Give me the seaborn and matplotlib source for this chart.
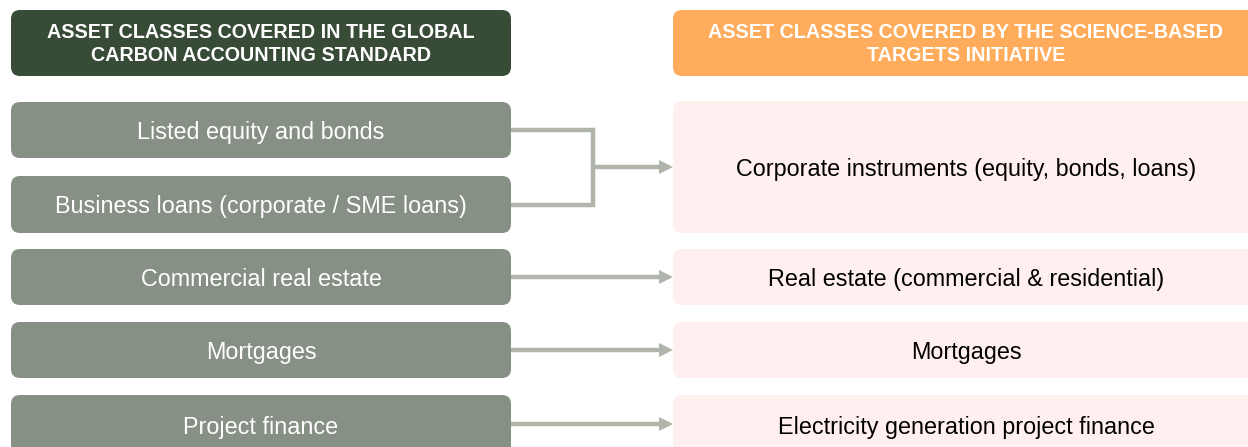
import matplotlib
matplotlib.use('Agg')
import matplotlib.pyplot as plt
from matplotlib.patches import FancyBboxPatch, Polygon
import seaborn as sns

# header texts
left_header = 'ASSET CLASSES COVERED IN THE GLOBAL\nCARBON ACCOUNTING STANDARD'
right_header = 'ASSET CLASSES COVERED BY THE SCIENCE-BASED\nTARGETS INITIATIVE'

# left column (PCAF asset classes) and which right box each one maps to
left_labels = ['Listed equity and bonds', 'Business loans (corporate / SME loans)',
               'Commercial real estate', 'Mortgages', 'Project finance']
left_target = [0, 0, 1, 2, 3]

# right column (SBTi asset classes)
right_labels = ['Corporate instruments (equity, bonds, loans)',
                'Real estate (commercial & residential)',
                'Mortgages', 'Electricity generation project finance']

# row geometry in pixels (top, bottom)
left_rows = [(102, 158), (176, 233), (249, 305), (322, 378), (395, 455)]
right_rows = [(101, 233), (249, 305), (322, 378), (395, 455)]

dark_green = '#374B37'
orange = '#FFAD5C'
grey_green = '#879084'
pink = '#FFF0EF'
arrow_col = '#B0B5AC'

sns.set_theme(style='white')
plt.rcParams['font.family'] = ['Liberation Sans', 'DejaVu Sans']

fig = plt.figure(figsize=(12.48, 4.47), dpi=100)
ax = fig.add_axes([0, 0, 1, 1])
ax.set_xlim(0, 1248)
ax.set_ylim(447, 0)
ax.axis('off')

LX0, LX1 = 11, 511
RX0, RX1 = 673, 1262


def box(x0, x1, y0, y1, color):
    r = 9
    p = FancyBboxPatch((x0 + r, y0 + r), (x1 - x0) - 2 * r, (y1 - y0) - 2 * r,
                       boxstyle=f'round,pad={r},rounding_size={r}',
                       fc=color, ec='none', zorder=2)
    ax.add_patch(p)


def arrow(x0, x1, y):
    ax.plot([x0, x1 - 12], [y, y], color=arrow_col, lw=3.2, solid_capstyle='butt', zorder=1)
    ax.add_patch(Polygon([[x1 - 14, y - 7], [x1, y], [x1 - 14, y + 7]],
                         closed=True, fc=arrow_col, ec='none', zorder=1))


# headers
box(LX0, LX1, 10, 76, dark_green)
ax.text((LX0 + LX1) / 2, 44, left_header, ha='center', va='center', color='white',
        fontsize=14.2, fontweight='bold', linespacing=1.3, zorder=3)
box(RX0, RX1, 10, 76, orange)
ax.text(966, 44, right_header, ha='center', va='center', color='white',
        fontsize=14.2, fontweight='bold', linespacing=1.3, zorder=3)

# left boxes
for lab, (y0, y1) in zip(left_labels, left_rows):
    box(LX0, LX1, y0, y1, grey_green)
    ax.text((LX0 + LX1) / 2, (y0 + y1) / 2 + 2.5, lab, ha='center', va='center',
            color='white', fontsize=16.8, zorder=3)

# right boxes
for lab, (y0, y1) in zip(right_labels, right_rows):
    box(RX0, RX1, y0, y1, pink)
    ax.text(966, (y0 + y1) / 2 + 2.5, lab, ha='center', va='center',
            color='black', fontsize=16.8, zorder=3)

# connectors
for t in range(len(right_labels)):
    srcs = [i for i, tt in enumerate(left_target) if tt == t]
    ty0, ty1 = right_rows[t]
    ty = (ty0 + ty1) / 2 if t < 3 else 424
    if len(srcs) == 1:
        arrow(LX1, RX0, ty)
    else:
        bx = 593
        ys = [130, 205]
        ax.plot([LX1, bx, bx, LX1], [ys[0], ys[0], ys[1], ys[1]], color=arrow_col,
                lw=3.2, solid_joinstyle='miter', zorder=1)
        arrow(bx, RX0, ty)

fig.savefig('out.png', dpi=100)
